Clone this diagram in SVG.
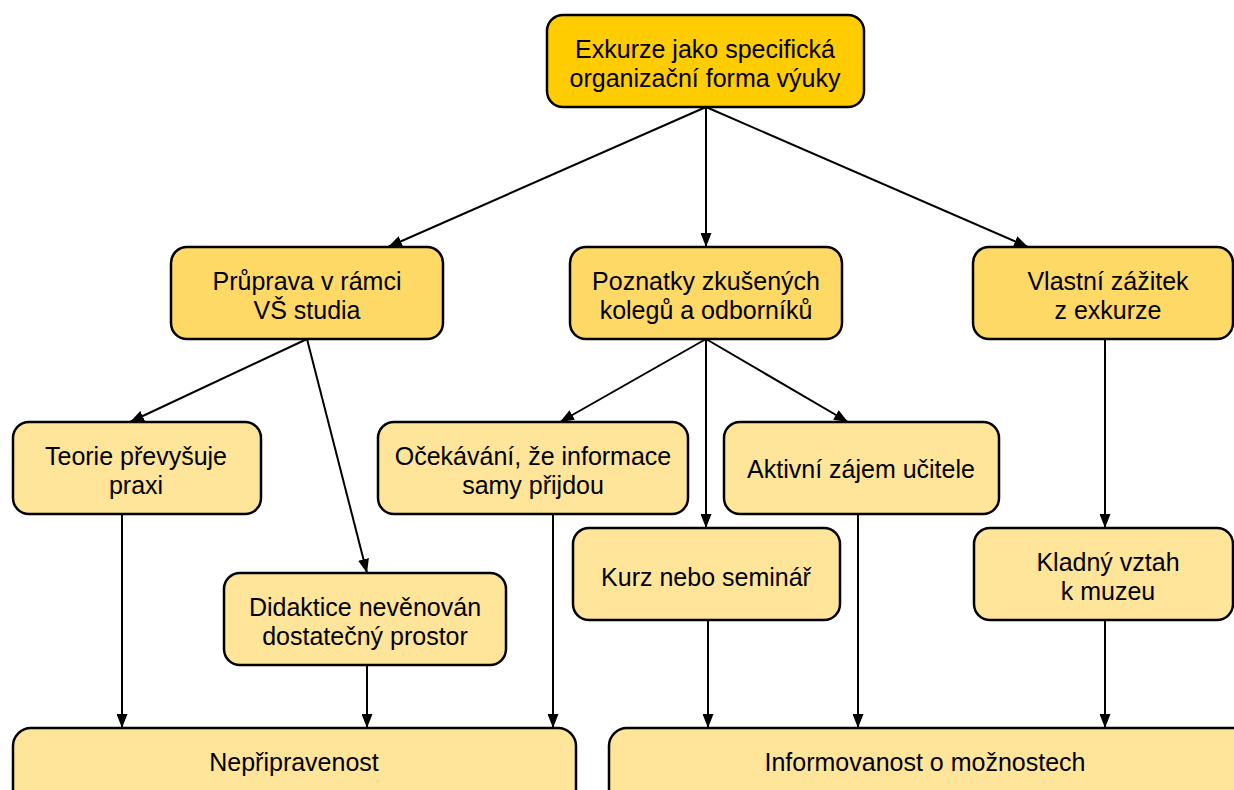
<svg xmlns="http://www.w3.org/2000/svg" width="1234" height="790" viewBox="0 0 1234 790">
<defs>
<marker id="ah" viewBox="0 0 14 11" refX="14" refY="5.5" markerWidth="14" markerHeight="11" markerUnits="userSpaceOnUse" orient="auto">
<path d="M0,0 L14,5.5 L0,11 Z" fill="#000"/>
</marker>
<style>
.n rect{stroke:#000;stroke-width:2.5}
.l1 rect{fill:#FFCC00}
.l2 rect{fill:#FFD966}
.l3 rect{fill:#FFE599}
text{font-family:"Liberation Sans",Arial,sans-serif;font-size:25px;fill:#000;text-anchor:middle}
.c line{stroke:#000;stroke-width:2;marker-end:url(#ah)}
</style>
</defs>
<rect width="1234" height="790" fill="#fff"/>
<g class="c">
<line x1="706" y1="107" x2="388" y2="247"/>
<line x1="706" y1="107" x2="706" y2="247"/>
<line x1="706" y1="107" x2="1028" y2="247"/>
<line x1="307" y1="339" x2="130" y2="422"/>
<line x1="307" y1="339" x2="367" y2="573"/>
<line x1="706" y1="339" x2="560" y2="422"/>
<line x1="706" y1="339" x2="706" y2="528"/>
<line x1="706" y1="339" x2="848" y2="422"/>
<line x1="1105" y1="339" x2="1105" y2="528"/>
<line x1="122" y1="514" x2="122" y2="728"/>
<line x1="367" y1="665" x2="367" y2="728"/>
<line x1="553" y1="514" x2="553" y2="728"/>
<line x1="708" y1="620" x2="708" y2="728"/>
<line x1="858" y1="514" x2="858" y2="728"/>
<line x1="1105" y1="620" x2="1105" y2="728"/>
</g>
<g id="top" class="n l1"><rect x="547" y="15" width="317" height="92" rx="16"/><text x="705" y="58">Exkurze jako specifická</text><text x="705" y="87">organizační forma výuky</text></g>
<g id="pruprava" class="n l2"><rect x="171" y="247" width="272" height="92" rx="16"/><text x="307" y="290">Průprava v rámci</text><text x="307" y="319">VŠ studia</text></g>
<g id="poznatky" class="n l2"><rect x="570" y="247" width="272" height="92" rx="16"/><text x="706" y="290">Poznatky zkušených</text><text x="706" y="319">kolegů a odborníků</text></g>
<g id="vlastni" class="n l2"><rect x="973" y="247" width="260" height="92" rx="16"/><text x="1108" y="290">Vlastní zážitek</text><text x="1108" y="319">z exkurze</text></g>
<g id="teorie" class="n l3"><rect x="13" y="422" width="248" height="92" rx="16"/><text x="136" y="465">Teorie převyšuje</text><text x="136" y="494">praxi</text></g>
<g id="ocekavani" class="n l3"><rect x="378" y="422" width="310" height="92" rx="16"/><text x="533" y="465">Očekávání, že informace</text><text x="533" y="494">samy přijdou</text></g>
<g id="aktivni" class="n l3"><rect x="724" y="422" width="275" height="92" rx="16"/><text x="861" y="478">Aktivní zájem učitele</text></g>
<g id="didaktice" class="n l3"><rect x="224" y="573" width="282" height="92" rx="16"/><text x="365" y="616">Didaktice nevěnován</text><text x="365" y="645">dostatečný prostor</text></g>
<g id="kurz" class="n l3"><rect x="573" y="528" width="267" height="92" rx="16"/><text x="706" y="586">Kurz nebo seminář</text></g>
<g id="kladny" class="n l3"><rect x="974" y="528" width="259" height="92" rx="16"/><text x="1108" y="571">Kladný vztah</text><text x="1108" y="600">k muzeu</text></g>
<g id="nepripravenost" class="n l3"><rect x="13" y="728" width="563" height="90" rx="18"/><text x="294" y="771">Nepřipravenost</text></g>
<g id="informovanost" class="n l3"><rect x="609" y="728" width="650" height="90" rx="18"/><text x="925" y="771">Informovanost o možnostech</text></g>
</svg>
